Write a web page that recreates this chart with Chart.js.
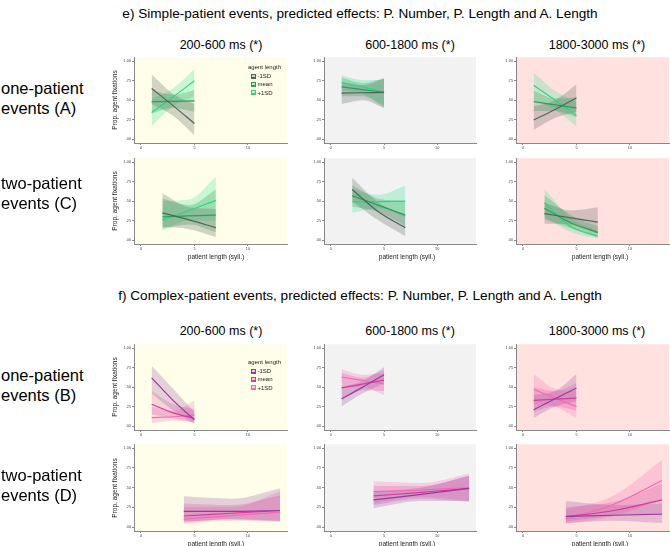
<!DOCTYPE html>
<html><head><meta charset="utf-8">
<script src="https://cdn.jsdelivr.net/npm/chart.js@4.4.0/dist/chart.umd.min.js"></script>
<style>
body{margin:0;width:670px;height:546px;background:#fff;position:relative;overflow:hidden;font-family:"Liberation Sans",Arial,sans-serif;}
.t{position:absolute;white-space:nowrap;color:#000;transform:translate(-50%,-50%);line-height:1;}
.rl{position:absolute;white-space:nowrap;color:#000;font-size:16.5px;line-height:20px;left:1px;}
.yt{position:absolute;white-space:nowrap;color:#222;font-size:6.5px;transform:translate(-50%,-50%) rotate(-90deg);}
.xt{position:absolute;white-space:nowrap;color:#222;font-size:6.5px;transform:translate(-50%,-50%);}
.lg{position:absolute;font-size:6px;color:#222;line-height:1;}
.lg .row{display:flex;align-items:center;height:8.3px;}
.lg .key{position:relative;width:5px;height:5px;margin-right:1.5px;box-sizing:border-box;}
.lg .key i{position:absolute;left:0;right:0;top:2px;height:1px;}
canvas{position:absolute;}
</style></head><body>
<script>
// ---------- data ----------
const SERIES = ['-1SD', 'mean', '+1SD'];
const Y_TICKS = [0, 0.25, 0.5, 0.75, 1];
const Y_LABELS = ['.00', '.25', '.50', '.75', '1.00'];
const X_TICKS = [0, 5, 10];
const X_LABELS = ['0', '5', '10'];
const X_ONE = [1, 3, 5];      // one-patient events: patient length (syll.)
const X_TWO_S = [2, 4.5, 7];  // two-patient simple events
const X_TWO_C = [4, 8.5, 13]; // two-patient complex events

// simple-patient, one-patient (A)
const A1_fit = [[0.65, 0.43, 0.20], [0.48, 0.485, 0.49], [0.34, 0.54, 0.75]];
const A1_lo  = [[0.45, 0.30, 0.05], [0.33, 0.40, 0.35], [0.17, 0.42, 0.55]];
const A1_hi  = [[0.83, 0.58, 0.45], [0.63, 0.57, 0.63], [0.52, 0.65, 0.90]];
const A2_fit = [[0.59, 0.595, 0.60], [0.67, 0.635, 0.60], [0.73, 0.67, 0.60]];
const A2_lo  = [[0.45, 0.50, 0.40], [0.55, 0.55, 0.41], [0.63, 0.58, 0.43]];
const A2_hi  = [[0.73, 0.69, 0.78], [0.79, 0.72, 0.78], [0.82, 0.76, 0.76]];
const A3_fit = [[0.245, 0.38, 0.53], [0.48, 0.44, 0.40], [0.69, 0.50, 0.30]];
const A3_lo  = [[0.12, 0.27, 0.35], [0.36, 0.36, 0.28], [0.50, 0.38, 0.16]];
const A3_hi  = [[0.42, 0.50, 0.70], [0.62, 0.52, 0.53], [0.85, 0.62, 0.47]];
// simple-patient, two-patient (C)
const C1_fit = [[0.35, 0.26, 0.16], [0.30, 0.31, 0.32], [0.26, 0.38, 0.51]];
const C1_lo  = [[0.17, 0.14, 0.04], [0.15, 0.20, 0.10], [0.12, 0.25, 0.25]];
const C1_hi  = [[0.60, 0.42, 0.40], [0.53, 0.45, 0.65], [0.50, 0.52, 0.81]];
const C2_fit = [[0.65, 0.36, 0.16], [0.57, 0.445, 0.32], [0.49, 0.495, 0.50]];
const C2_lo  = [[0.50, 0.25, 0.05], [0.43, 0.36, 0.18], [0.35, 0.41, 0.30]];
const C2_hi  = [[0.80, 0.48, 0.32], [0.70, 0.53, 0.50], [0.65, 0.58, 0.70]];
const C3_fit = [[0.34, 0.285, 0.23], [0.41, 0.22, 0.10], [0.48, 0.17, 0.05]];
const C3_lo  = [[0.21, 0.20, 0.08], [0.27, 0.15, 0.04], [0.30, 0.10, 0.02]];
const C3_hi  = [[0.48, 0.38, 0.42], [0.58, 0.32, 0.18], [0.66, 0.28, 0.12]];
// complex-patient, one-patient (B)
const B1_fit = [[0.62, 0.33, 0.08], [0.28, 0.17, 0.10], [0.11, 0.12, 0.14]];
const B1_lo  = [[0.42, 0.20, 0.03], [0.15, 0.10, 0.04], [0.04, 0.07, 0.05]];
const B1_hi  = [[0.77, 0.48, 0.18], [0.45, 0.28, 0.22], [0.25, 0.20, 0.33]];
const B2_fit = [[0.35, 0.50, 0.66], [0.49, 0.54, 0.59], [0.63, 0.585, 0.54]];
const B2_lo  = [[0.25, 0.42, 0.55], [0.33, 0.46, 0.45], [0.50, 0.50, 0.40]];
const B2_hi  = [[0.50, 0.58, 0.76], [0.68, 0.62, 0.72], [0.73, 0.66, 0.68]];
const B3_fit = [[0.21, 0.35, 0.49], [0.33, 0.345, 0.36], [0.47, 0.36, 0.25]];
const B3_lo  = [[0.10, 0.25, 0.32], [0.18, 0.25, 0.20], [0.28, 0.25, 0.10]];
const B3_hi  = [[0.40, 0.45, 0.67], [0.50, 0.45, 0.55], [0.67, 0.48, 0.45]];
// complex-patient, two-patient (D)
const D1_fit = [[0.20, 0.20, 0.21], [0.14, 0.175, 0.21], [0.10, 0.145, 0.19]];
const D1_lo  = [[0.07, 0.10, 0.08], [0.06, 0.10, 0.07], [0.04, 0.08, 0.07]];
const D1_hi  = [[0.39, 0.36, 0.49], [0.30, 0.28, 0.40], [0.25, 0.25, 0.45]];
const D2_fit = [[0.345, 0.415, 0.49], [0.395, 0.44, 0.49], [0.45, 0.47, 0.50]];
const D2_lo  = [[0.24, 0.33, 0.33], [0.28, 0.36, 0.32], [0.30, 0.38, 0.33]];
const D2_hi  = [[0.45, 0.50, 0.65], [0.52, 0.52, 0.65], [0.58, 0.56, 0.68]];
const D3_fit = [[0.135, 0.15, 0.165], [0.13, 0.21, 0.345], [0.10, 0.29, 0.59]];
const D3_lo  = [[0.05, 0.08, 0.05], [0.07, 0.14, 0.18], [0.04, 0.14, 0.35]];
const D3_hi  = [[0.33, 0.28, 0.30], [0.25, 0.32, 0.55], [0.22, 0.40, 0.85]];

// ---------- styles ----------
const GREEN = {line: ['#4e6656', '#2f9e58', '#2fd483'],
               band: ['rgba(95,105,95,0.28)', 'rgba(40,160,85,0.28)', 'rgba(70,225,150,0.28)']};
const PINK  = {line: ['#9a3aa0', '#d23c9a', '#f26ab6'],
               band: ['rgba(150,70,160,0.25)', 'rgba(215,60,150,0.22)', 'rgba(245,120,185,0.28)']};
const BG = ['#fefeea', '#f2f2f2', '#ffe1e0'];
const COLS = [[134, 287], [324, 476], [516, 669]];
const ROWS = {A: [57, 143.2], C: [157.8, 244], B: [343.8, 430.2], D: [444.4, 531.2]};

const bgPlugin = {id: 'bg', beforeDraw(c, a, o) {
  const {ctx, chartArea: {left, top, width, height}} = c;
  ctx.save(); ctx.fillStyle = o.color; ctx.fillRect(left, top, width, height); ctx.restore();
}};

const YW = 22, XH = 14, PT = 3, PR = 3;
function panel(col, row, xs, fit, lo, hi, pal) {
  const [l, r] = COLS[col], [t, b] = ROWS[row];
  const cv = document.createElement('canvas');
  const w = Math.round(r - l + YW + PR), h = Math.round(b - t + PT + XH);
  cv.width = w; cv.height = h;
  cv.style.left = (l - YW) + 'px'; cv.style.top = (t - PT) + 'px';
  cv.style.width = w + 'px'; cv.style.height = h + 'px';
  document.body.appendChild(cv);
  const pts = arr => arr.map((v, i) => ({x: xs[i], y: v}));
  const ds = [];
  for (let s = 0; s < 3; s++) {
    ds.push({label: SERIES[s] + ' hi', data: pts(hi[s]), borderWidth: 0, pointRadius: 0, fill: false,
             cubicInterpolationMode: 'monotone', order: 2});
    ds.push({label: SERIES[s] + ' lo', data: pts(lo[s]), borderWidth: 0, pointRadius: 0, fill: '-1',
             backgroundColor: pal.band[s], cubicInterpolationMode: 'monotone', order: 2});
  }
  for (let s = 0; s < 3; s++) {
    ds.push({label: SERIES[s], data: pts(fit[s]), borderColor: pal.line[s], borderWidth: 1.2,
             pointRadius: 0, fill: false, cubicInterpolationMode: 'monotone', order: 0});
  }
  const tickFont = {size: 3.8, family: 'Liberation Sans'};
  new Chart(cv, {
    type: 'line',
    data: {datasets: ds},
    options: {
      responsive: false, animation: false, devicePixelRatio: 1,
      layout: {padding: {top: PT, right: PR, left: 0, bottom: 0}},
      plugins: {legend: {display: false}, tooltip: {enabled: false}, bg: {color: BG[col]}},
      scales: {
        x: {type: 'linear', min: -0.65, max: 13.65,
            afterBuildTicks: s => { s.ticks = X_TICKS.map(v => ({value: v})); },
            afterFit: s => { s.height = XH; },
            ticks: {callback: (v) => X_LABELS[X_TICKS.indexOf(v)], font: tickFont, color: '#444', padding: 1, maxRotation: 0},
            grid: {drawOnChartArea: false, drawTicks: true, tickLength: 2, color: '#888'},
            border: {display: true, color: '#888', width: 1}},
        y: {type: 'linear', min: -0.05, max: 1.05,
            afterBuildTicks: s => { s.ticks = Y_TICKS.map(v => ({value: v})); },
            afterFit: s => { s.width = YW; },
            ticks: {callback: (v) => Y_LABELS[Y_TICKS.indexOf(v)], font: tickFont, color: '#444', padding: 1},
            grid: {drawOnChartArea: false, drawTicks: true, tickLength: 2, color: '#888'},
            border: {display: true, color: '#888', width: 1}}
      }
    },
    plugins: [bgPlugin]
  });
}

panel(0, 'A', X_ONE, A1_fit, A1_lo, A1_hi, GREEN);
panel(1, 'A', X_ONE, A2_fit, A2_lo, A2_hi, GREEN);
panel(2, 'A', X_ONE, A3_fit, A3_lo, A3_hi, GREEN);
panel(0, 'C', X_TWO_S, C1_fit, C1_lo, C1_hi, GREEN);
panel(1, 'C', X_TWO_S, C2_fit, C2_lo, C2_hi, GREEN);
panel(2, 'C', X_TWO_S, C3_fit, C3_lo, C3_hi, GREEN);
panel(0, 'B', X_ONE, B1_fit, B1_lo, B1_hi, PINK);
panel(1, 'B', X_ONE, B2_fit, B2_lo, B2_hi, PINK);
panel(2, 'B', X_ONE, B3_fit, B3_lo, B3_hi, PINK);
panel(0, 'D', X_TWO_C, D1_fit, D1_lo, D1_hi, PINK);
panel(1, 'D', X_TWO_C, D2_fit, D2_lo, D2_hi, PINK);
panel(2, 'D', X_TWO_C, D3_fit, D3_lo, D3_hi, PINK);

// ---------- text ----------
function txt(cls, s, x, y, extra) {
  const d = document.createElement('div'); d.className = cls; d.textContent = s;
  d.style.left = x + 'px'; d.style.top = y + 'px';
  if (extra) Object.assign(d.style, extra);
  document.body.appendChild(d); return d;
}
txt('t', 'e) Simple-patient events, predicted effects: P. Number, P. Length and A. Length', 360, 14, {fontSize: '13.6px'});
txt('t', 'f) Complex-patient events, predicted effects: P. Number, P. Length and A. Length', 360, 296, {fontSize: '13.6px'});
const COL_TITLES = ['200-600 ms (*)', '600-1800 ms (*)', '1800-3000 ms (*)'];
const COL_CX = [221, 410, 597];
COL_TITLES.forEach((s, i) => { txt('t', s, COL_CX[i], 45, {fontSize: '12.5px'}); txt('t', s, COL_CX[i], 331, {fontSize: '12.5px'}); });
function rowLabel(a, b, y) { const d = document.createElement('div'); d.className = 'rl'; d.innerHTML = a + '<br>' + b; d.style.top = y + 'px'; document.body.appendChild(d); }
rowLabel('one-patient', 'events (A)', 78);
rowLabel('two-patient', 'events (C)', 173);
rowLabel('one-patient', 'events (B)', 365);
rowLabel('two-patient', 'events (D)', 465);
Object.values(ROWS).forEach(([t, b]) => txt('yt', 'Prop. agent fixations', 114, (t + b) / 2));
const XT_CX = [216, 407, 600];
XT_CX.forEach(x => { txt('xt', 'patient length (syll.)', x, 256); txt('xt', 'patient length (syll.)', x, 543); });

function legend(x, y, pal) {
  const d = document.createElement('div'); d.className = 'lg';
  d.style.left = x + 'px'; d.style.top = y + 'px';
  let h = '<div style="margin-bottom:2px">agent length</div>';
  SERIES.forEach((s, i) => {
    h += '<div class="row" style="margin-left:3px"><span class="key" style="border:1px solid ' + pal.line[i] + ';background:' + pal.band[i] + '"><i style="background:' + pal.line[i] + '"></i></span>' + s + '</div>';
  });
  d.innerHTML = h; document.body.appendChild(d);
}
legend(248, 64, GREEN);
legend(248, 359, PINK);
</script>
</body></html>
